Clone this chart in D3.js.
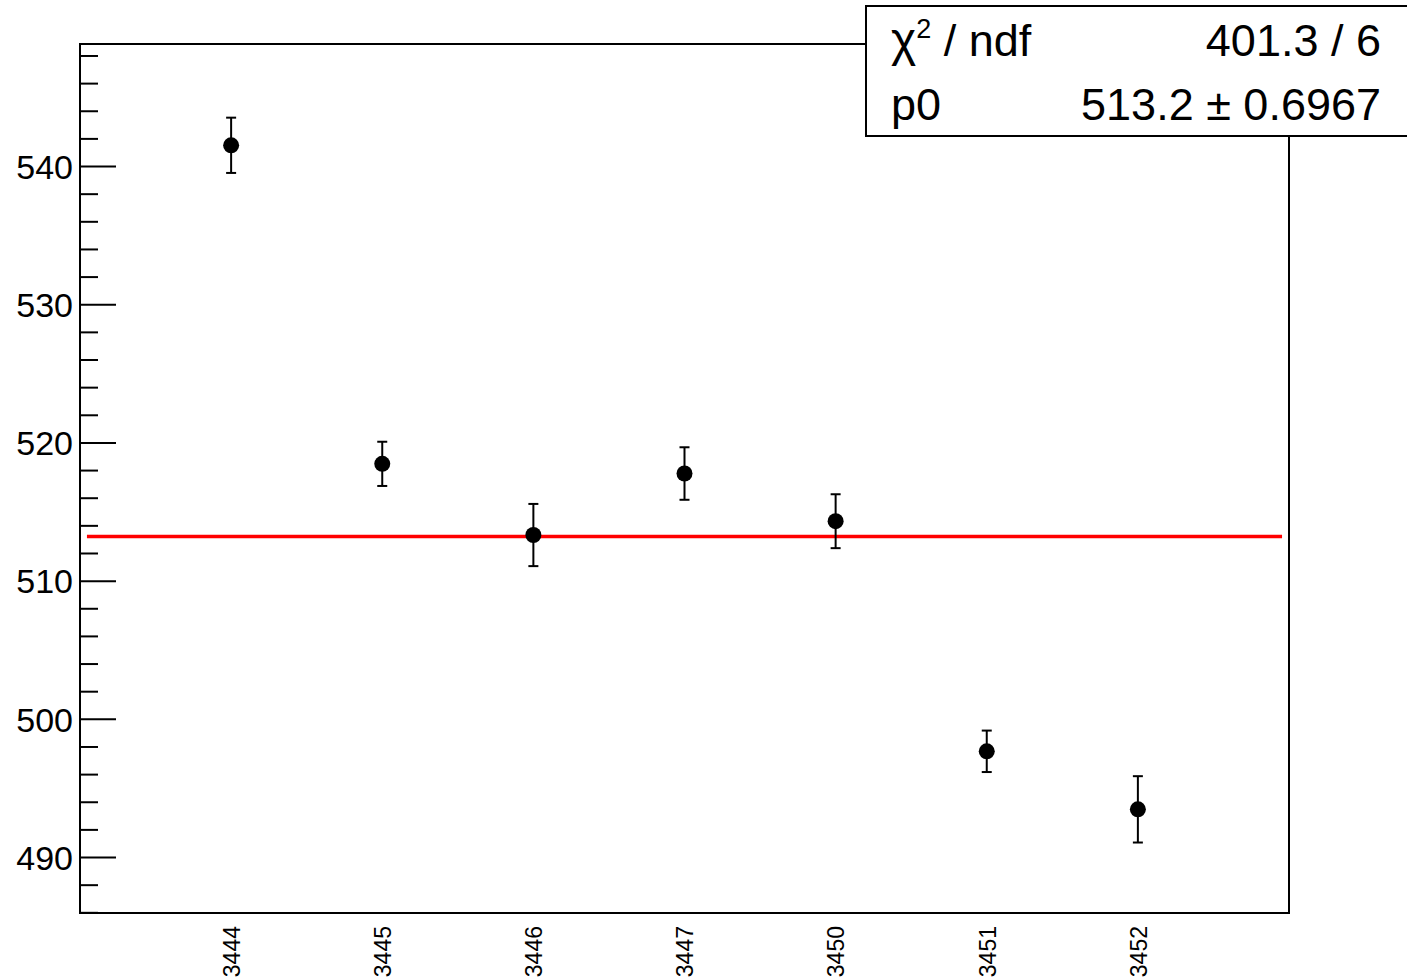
<!DOCTYPE html>
<html>
<head>
<meta charset="utf-8">
<script src="https://cdn.jsdelivr.net/npm/d3@7"></script>
<style>
  html, body { margin: 0; padding: 0; background: #fff; }
  svg { display: block; font-family: "Liberation Sans", Arial, Helvetica, sans-serif; }
</style>
</head>
<body>
<svg id="chart" width="1407" height="979"></svg>
<script>
// ---- data ----
const runs = ["3444", "3445", "3446", "3447", "3450", "3451", "3452"];
const values = [541.5, 518.45, 513.3, 517.75, 514.3, 497.65, 493.45];
const errors = [2.0, 1.6, 2.25, 1.9, 1.95, 1.5, 2.4];
const fitP0 = 513.2;
const statLabels = ["\u03C7\u00B2 / ndf", "p0"];
const statValues = ["401.3 / 6", "513.2 \u00B1 0.6967"];
const yMajorTicks = [490, 500, 510, 520, 530, 540];

// ---- layout ----
const W = 1407, H = 979;
const frame = { left: 80, right: 1289, top: 44, bottom: 913 };

const svg = d3.select("#chart");
svg.append("rect").attr("width", W).attr("height", H).attr("fill", "#fff");

const x = d3.scaleLinear().domain([0, runs.length + 1]).range([frame.left, frame.right]);
const y = d3.scaleLinear().domain([485.95, 548.83]).range([frame.bottom, frame.top]);

// frame
svg.append("rect")
  .attr("x", frame.left).attr("y", frame.top)
  .attr("width", frame.right - frame.left).attr("height", frame.bottom - frame.top)
  .attr("fill", "none").attr("stroke", "#000").attr("stroke-width", 2);

// y axis: minor ticks
const minorTicks = d3.range(486, 549, 2).filter(v => v % 10 !== 0);
const yMinor = d3.axisLeft(y).tickValues(minorTicks).tickSize(-18).tickFormat("");
const gMinor = svg.append("g").attr("transform", `translate(${frame.left},0)`).call(yMinor);
gMinor.select(".domain").remove();
gMinor.selectAll("line").attr("stroke", "#000").attr("stroke-width", 2);

const yMajor = d3.axisLeft(y).tickValues(yMajorTicks).tickSize(-36).tickFormat(d3.format("d"));
const gMajor = svg.append("g").attr("transform", `translate(${frame.left},0)`).call(yMajor);
gMajor.select(".domain").remove();
gMajor.selectAll("line").attr("stroke", "#000").attr("stroke-width", 2);
gMajor.selectAll("text")
  .attr("font-size", 34).attr("fill", "#000")
  .attr("font-family", "Liberation Sans, Arial, sans-serif")
  .attr("x", -7).attr("dy", "0.36em");

// x axis labels (rotated)
const xAxis = d3.axisBottom(x).tickValues(runs.map((r, i) => i + 1)).tickSize(0)
  .tickFormat((d) => runs[d - 1]);
const gX = svg.append("g").attr("transform", `translate(0,${frame.bottom})`).call(xAxis);
gX.select(".domain").remove();
gX.selectAll("text")
  .attr("font-size", 23).attr("fill", "#000")
  .attr("font-family", "Liberation Sans, Arial, sans-serif")
  .attr("transform", "rotate(-90)")
  .attr("text-anchor", "end")
  .attr("x", -13).attr("y", 0).attr("dy", "0.36em");

// fit line
svg.append("line")
  .attr("x1", x(0.046)).attr("x2", x(7.954))
  .attr("y1", y(fitP0)).attr("y2", y(fitP0))
  .attr("stroke", "#ff0000").attr("stroke-width", 3.5);

// error bars + markers
const pts = svg.append("g");
runs.forEach((r, i) => {
  const cx = x(i + 1);
  const g = pts.append("g");
  g.append("line").attr("x1", cx).attr("x2", cx)
    .attr("y1", y(values[i] + errors[i])).attr("y2", y(values[i] - errors[i]))
    .attr("stroke", "#000").attr("stroke-width", 2);
  [values[i] + errors[i], values[i] - errors[i]].forEach(v => {
    g.append("line").attr("x1", cx - 5).attr("x2", cx + 5)
      .attr("y1", y(v)).attr("y2", y(v))
      .attr("stroke", "#000").attr("stroke-width", 2);
  });
  g.append("circle").attr("cx", cx).attr("cy", y(values[i])).attr("r", 8).attr("fill", "#000");
});

// stats box
const box = { x: 866, y: 6, w: 560, h: 130 };
svg.append("rect").attr("x", box.x).attr("y", box.y).attr("width", box.w).attr("height", box.h)
  .attr("fill", "#fff").attr("stroke", "#000").attr("stroke-width", 2);
const rowBase = [56, 120];
statLabels.forEach((l, i) => {
  const t = svg.append("text").attr("x", 891).attr("y", rowBase[i])
    .attr("font-size", 45).attr("fill", "#000");
  if (i === 0) {
    t.append("tspan").attr("font-size", 48).text("\u03C7");
    t.append("tspan").attr("font-size", 27).attr("dy", -18).text("2");
    t.append("tspan").attr("dy", 18).text(" / ndf");
  } else {
    t.text(l);
  }
  svg.append("text").attr("x", 1381).attr("y", rowBase[i])
    .attr("text-anchor", "end").attr("font-size", 45).attr("fill", "#000")
    .text(statValues[i]);
});
</script>
</body>
</html>
